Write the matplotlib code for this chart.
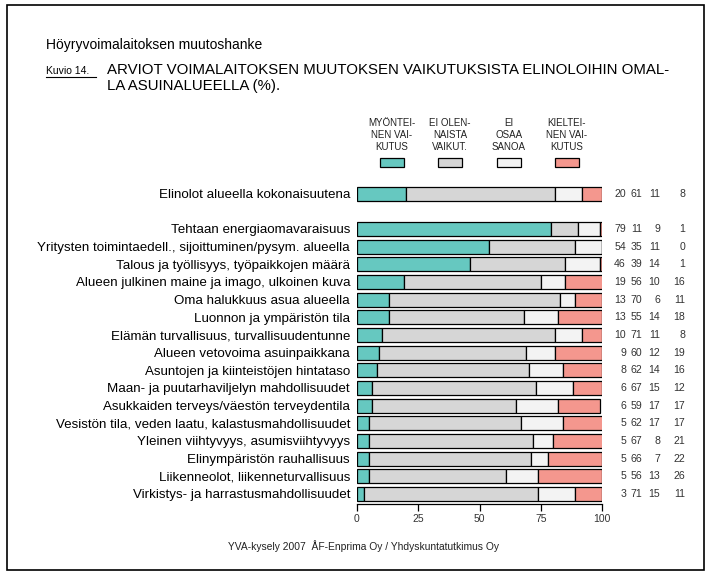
import matplotlib
matplotlib.use("Agg")
import matplotlib.pyplot as plt
import matplotlib.transforms as mtransforms
from matplotlib.patches import Rectangle

plt.rcParams['font.family'] = ['Liberation Sans', 'DejaVu Sans']

# data
categories = [
    "Elinolot alueella kokonaisuutena",
    "Tehtaan energiaomavaraisuus",
    "Yritysten toimintaedell., sijoittuminen/pysym. alueella",
    "Talous ja työllisyys, työpaikkojen määrä",
    "Alueen julkinen maine ja imago, ulkoinen kuva",
    "Oma halukkuus asua alueella",
    "Luonnon ja ympäristön tila",
    "Elämän turvallisuus, turvallisuudentunne",
    "Alueen vetovoima asuinpaikkana",
    "Asuntojen ja kiinteistöjen hintataso",
    "Maan- ja puutarhaviljelyn mahdollisuudet",
    "Asukkaiden terveys/väestön terveydentila",
    "Vesistön tila, veden laatu, kalastusmahdollisuudet",
    "Yleinen viihtyvyys, asumisviihtyvyys",
    "Elinympäristön rauhallisuus",
    "Liikenneolot, liikenneturvallisuus",
    "Virkistys- ja harrastusmahdollisuudet",
]
positive = [20, 79, 54, 46, 19, 13, 13, 10, 9, 8, 6, 6, 5, 5, 5, 5, 3]
neutral  = [61, 11, 35, 39, 56, 70, 55, 71, 60, 62, 67, 59, 62, 67, 66, 56, 71]
dontknow = [11, 9, 11, 14, 10, 6, 14, 11, 12, 14, 15, 17, 17, 8, 7, 13, 15]
negative = [8, 1, 0, 1, 16, 11, 18, 8, 19, 16, 12, 17, 17, 21, 22, 26, 11]

legend_labels = ["MYÖNTEI-\nNEN VAI-\nKUTUS", "EI OLEN-\nNAISTA\nVAIKUT.",
                 "EI\nOSAA\nSANOA", "KIELTEI-\nNEN VAI-\nKUTUS"]
colors = ["#66c8c0", "#d6d6d6", "#f3f3f3", "#f4978e"]

W, H = 711, 581
fig = plt.figure(figsize=(W / 100, H / 100), dpi=100)

def fx(px):
    return px / W

def fy(py):
    return 1 - py / H

# outer frame
fig.patches.append(Rectangle((fx(7), fy(570)), fx(704) - fx(7), fy(5) - fy(570),
                             transform=fig.transFigure, fill=False,
                             edgecolor="black", linewidth=1.2))

# header texts
fig.text(fx(46), fy(45), "Höyryvoimalaitoksen muutoshanke", fontsize=10,
         va="center", ha="left")
fig.text(fx(46), fy(71), "Kuvio 14.", fontsize=7.5, va="center", ha="left")
fig.add_artist(plt.Line2D([fx(46), fx(96)], [fy(77), fy(77)], color="black",
                          linewidth=0.8, transform=fig.transFigure))
fig.text(fx(107), fy(70), "ARVIOT VOIMALAITOKSEN MUUTOKSEN VAIKUTUKSISTA ELINOLOIHIN OMAL-",
         fontsize=10.8, va="center", ha="left")
fig.text(fx(107), fy(86), "LA ASUINALUEELLA (%).", fontsize=10.8, va="center", ha="left")

# row positions: overall row, gap, then the rest
ypos = [0] + list(range(2, 2 + len(categories) - 1))

ax_top, ax_bot = 183, 504
ax = fig.add_axes([fx(357), fy(ax_bot), fx(602) - fx(357), fy(ax_top) - fy(ax_bot)])
ax.set_facecolor("none")

left = [0] * len(categories)
for vals, col in zip([positive, neutral, dontknow, negative], colors):
    ax.barh(ypos, vals, left=left, height=0.8, color=col, edgecolor="black",
            linewidth=0.9)
    left = [l + v for l, v in zip(left, vals)]

ax.set_xlim(0, 100)
ax.set_ylim(17.57, -0.6)
ax.set_yticks(ypos)
ax.set_yticklabels(categories, fontsize=9.6)
ax.tick_params(axis="y", length=0, pad=5)
ax.set_xticks([0, 25, 50, 75, 100])
ax.tick_params(axis="x", labelsize=7.5, length=5, width=0.9, direction="out",
               pad=2, labelcolor="#333333")
for s in ["top", "right", "left"]:
    ax.spines[s].set_visible(False)
ax.spines["bottom"].set_linewidth(0.9)

# value columns on the right
trans = mtransforms.blended_transform_factory(fig.transFigure, ax.transData)
col_x = [626, 642, 660, 685]
for vals, cx in zip([positive, neutral, dontknow, negative], col_x):
    for y, v in zip(ypos, vals):
        ax.text(fx(cx), y, str(v), transform=trans, ha="right", va="center",
                fontsize=7.6, color="#333333", clip_on=False)

# legend above the bars
leg_x = [392, 450, 509, 567]
for lab, col, cx in zip(legend_labels, colors, leg_x):
    fig.text(fx(cx), fy(135), lab, ha="center", va="center", fontsize=7,
             linespacing=1.25, color="#222222")
    fig.patches.append(Rectangle((fx(cx - 12), fy(167)), fx(24), fy(158) - fy(167),
                                 transform=fig.transFigure, facecolor=col,
                                 edgecolor="black", linewidth=0.9))

# footer
fig.text(fx(363), fy(546), "YVA-kysely 2007  ÅF-Enprima Oy / Yhdyskuntatutkimus Oy",
         ha="center", va="center", fontsize=7.4, color="#222222")

fig.savefig("out.png", dpi=100)
